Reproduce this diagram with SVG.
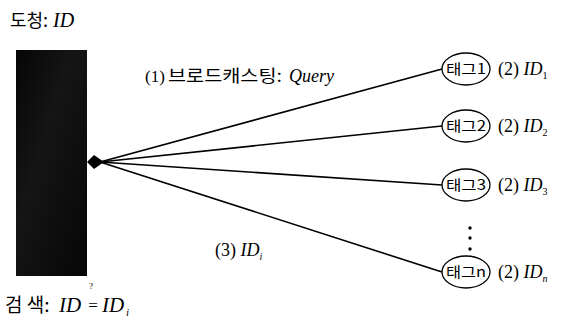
<svg xmlns="http://www.w3.org/2000/svg" width="576" height="327" viewBox="0 0 576 327">
<style>
.t{font-family:"Liberation Serif","Noto Sans CJK KR",serif;fill:#000}
.k{font-family:"Noto Sans CJK KR","Liberation Sans",sans-serif;fill:#000}
.i{font-style:italic}
.tag{fill:#fff;stroke:#000;stroke-width:1.3}
.ln{stroke:#000;stroke-width:1.6;fill:none}
</style>
<defs>
<linearGradient id="g" x1="0" y1="0" x2="1" y2="1">
<stop offset="0" stop-color="#060606"/>
<stop offset="0.4" stop-color="#151515"/>
<stop offset="1" stop-color="#060606"/>
</linearGradient>
</defs>
<g id="label-top"><text x="10" y="27" class="k" font-size="18">도청:</text><text x="53" y="27" class="t i" font-size="20">ID</text></g>
<g id="reader"><rect x="16" y="50" width="71" height="226" fill="url(#g)"/></g>
<g id="connectors">
<line class="ln" x1="100" y1="162" x2="442" y2="69"/>
<line class="ln" x1="100" y1="162" x2="442" y2="126"/>
<line class="ln" x1="100" y1="162" x2="442" y2="185"/>
<line class="ln" x1="100" y1="162" x2="442" y2="272"/>
<path d="M87,162 L94,155 L104,162 L94,169 Z" fill="#000"/>
</g>
<g id="label-query"><text x="145" y="82" class="t" font-size="17">(1)</text><text x="168" y="82" class="k" font-size="17" textLength="114" lengthAdjust="spacingAndGlyphs">브로드캐스팅:</text><text x="289" y="82" class="t i" font-size="18">Query</text></g>
<g id="tag1"><ellipse class="tag" cx="466" cy="69" rx="24" ry="16"/><text x="466" y="74" class="k" font-size="14" text-anchor="middle" textLength="40" lengthAdjust="spacingAndGlyphs">태그1</text></g>
<g id="tag2"><ellipse class="tag" cx="466" cy="126" rx="24" ry="16"/><text x="466" y="131" class="k" font-size="14" text-anchor="middle" textLength="40" lengthAdjust="spacingAndGlyphs">태그2</text></g>
<g id="tag3"><ellipse class="tag" cx="466" cy="185" rx="24" ry="16"/><text x="466" y="190" class="k" font-size="14" text-anchor="middle" textLength="40" lengthAdjust="spacingAndGlyphs">태그3</text></g>
<g id="tagn"><ellipse class="tag" cx="466" cy="272" rx="24" ry="16"/><text x="466" y="277" class="k" font-size="14" text-anchor="middle" textLength="40" lengthAdjust="spacingAndGlyphs">태그n</text></g>
<g id="dots" fill="#000"><circle cx="470" cy="228" r="1.7"/><circle cx="470" cy="238" r="1.7"/><circle cx="470" cy="249" r="1.7"/></g>
<g id="id-labels" class="t" font-size="18">
<text x="498" y="75">(2) <tspan class="i">ID</tspan><tspan font-size="10" dy="4">1</tspan></text>
<text x="498" y="132">(2) <tspan class="i">ID</tspan><tspan font-size="10" dy="4">2</tspan></text>
<text x="498" y="191">(2) <tspan class="i">ID</tspan><tspan font-size="10" dy="4">3</tspan></text>
<text x="498" y="278">(2) <tspan class="i">ID</tspan><tspan font-size="10" dy="4" class="i">n</tspan></text>
</g>
<g id="label-idi"><text x="215" y="256" class="t" font-size="18">(3) <tspan class="i">ID</tspan><tspan font-size="10" dy="4" class="i">i</tspan></text></g>
<g id="label-bottom">
<text x="5" y="312" class="k" font-size="19">검 색:</text>
<text x="59" y="312" class="t i" font-size="21">ID</text>
<text x="93" y="311" class="t" font-size="17" text-anchor="middle">=</text>
<text x="102" y="312" class="t i" font-size="21">ID</text>
<text x="126" y="316" class="t i" font-size="11">i</text>
<text x="91" y="289" class="t" font-size="9" text-anchor="middle">?</text>
</g>
</svg>
